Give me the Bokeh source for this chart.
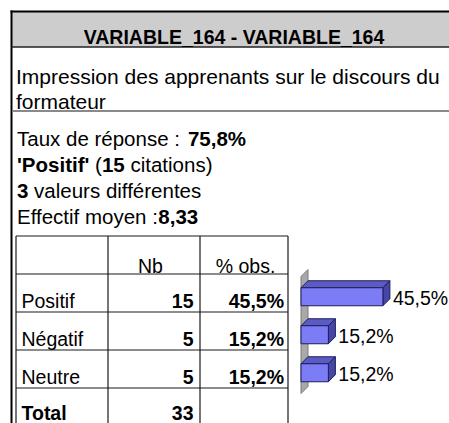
from bokeh.plotting import figure
from bokeh.models import Range1d
from bokeh.core.properties import value
from bokeh.embed import file_html
from bokeh.resources import INLINE

# ---------------- data ----------------
title_text = "VARIABLE_164 - VARIABLE_164"
question_lines = ["Impression des apprenants sur le discours du", "formateur"]
response_rate = 75.8
top_category = "Positif"
top_citations = 15
n_values = 3
mean_count = 8.33
table_header = ["Nb", "% obs."]
categories = ["Positif", "Négatif", "Neutre"]
counts = [15, 5, 5]
pct_obs = [45.5, 15.2, 15.2]
total_label = "Total"
total_count = 33


def fr(v, n):
    return f"{v:.{n}f}".replace(".", ",")


# Arial / Liberation Sans advance widths (per 1000 em)
W_REG = {" ": 278, "'": 191, "(": 333, ")": 333, ",": 278, "-": 333, ".": 278,
         ":": 278, "%": 889, "_": 556, "T": 611, "E": 667, "P": 667, "I": 278,
         "a": 556, "b": 556, "c": 500, "d": 556, "e": 556, "f": 278, "g": 556,
         "h": 556, "i": 222, "l": 222, "m": 833, "n": 556, "o": 556, "p": 556,
         "r": 333, "s": 500, "t": 278, "u": 556, "v": 500, "x": 500, "y": 500,
         "é": 556}
W_BOLD = {" ": 278, "'": 238, "(": 333, ")": 333, ",": 278, ":": 333, "%": 889,
          "P": 667, "o": 611, "s": 556, "i": 278, "t": 333, "f": 333}


def tw(s, bold, size):
    tab = W_BOLD if bold else W_REG
    return sum(tab.get(c, 556) for c in s) * size / 1000.0


FONT = value("Liberation Sans")
W, H = 449, 423

p = figure(width=W, height=H, x_range=Range1d(0, W), y_range=Range1d(H, 0),
           output_backend="svg", toolbar_location=None, min_border=0,
           x_axis_location=None, y_axis_location=None, outline_line_color=None)
p.xgrid.visible = False
p.ygrid.visible = False
p.background_fill_color = "white"
p.border_fill_color = "white"

# percentage scale for the bars: 0 % at x=300.5, 1.8 px per %
PX0, PXS = 300.5, 1.8
p.extra_x_ranges = {"pct": Range1d((0 - PX0) / PXS, (W - PX0) / PXS)}

# ---------------- frame ----------------
p.quad(left=[11], right=[W], top=[11], bottom=[46.5], fill_color="#CDCDCD", line_color=None)
p.segment(x0=[10, 11], y0=[11, 10], x1=[W, 11], y1=[11, H], line_color="black", line_width=2)
p.segment(x0=[11], y0=[46.5], x1=[W], y1=[46.5], line_color="#222222", line_width=1.3)
p.segment(x0=[12], y0=[110.5], x1=[W], y1=[110.5], line_color="#8A8A8A", line_width=2)

p.text(x=[233.5], y=[36], text=[title_text], text_font=FONT, text_font_style="bold",
       text_font_size="19.5px", text_align="center", text_baseline="alphabetic", text_color="black")

p.text(x=[15.5, 15.5], y=[76, 101], text=question_lines, text_font=FONT, text_font_size="21px",
       text_align="left", text_baseline="alphabetic", text_color="black")

# info lines with mixed weight
info_lines = [
    [("Taux de réponse : ", False), (fr(response_rate, 1) + "%", True)],
    [("'" + top_category + "'", True), (" (", False), (str(top_citations), True), (" citations)", False)],
    [(str(n_values), True), (" valeurs différentes", False)],
    [("Effectif moyen :", False), (fr(mean_count, 2), True)],
]
info_base = [138, 164, 190, 216]
FS = 20.5
for segs, yb in zip(info_lines, info_base):
    x = 16.5
    for s, b in segs:
        lead = len(s) - len(s.lstrip(" "))
        p.text(x=[x + tw(s[:lead], b, FS)], y=[yb], text=[s.strip(" ")], text_font=FONT,
               text_font_size=f"{FS}px", text_font_style="bold" if b else "normal",
               text_align="left", text_baseline="alphabetic", text_color="black")
        x += tw(s, b, FS)

# ---------------- table ----------------
col_x = [15.5, 107.5, 199.5, 287.5]
row_y = [235.5, 273.5, 311.5, 349.5, 387.5, 425.5]
p.segment(x0=[col_x[0]] * 5, y0=row_y[:5], x1=[col_x[-1]] * 5, y1=row_y[:5],
          line_color="#1A1A1A", line_width=1.2)
p.segment(x0=col_x, y0=[row_y[0]] * 4, x1=col_x, y1=[row_y[-1]] * 4,
          line_color="#1A1A1A", line_width=1.2)

TFS = "19.5px"
p.text(x=[150, 245], y=[265.5, 265.5], text=table_header, text_font=FONT, text_font_size=TFS,
       text_align="center", text_baseline="alphabetic", text_color="black")

row_base = [row_y[i + 2] - 11 for i in range(len(categories))]
p.text(x=[21] * len(categories), y=row_base, text=categories, text_font=FONT, text_font_size=TFS,
       text_align="left", text_baseline="alphabetic", text_color="black")
p.text(x=[193] * len(categories), y=row_base, text=[str(c) for c in counts], text_font=FONT,
       text_font_size=TFS, text_font_style="bold", text_align="right",
       text_baseline="alphabetic", text_color="black")
p.text(x=[283.5] * len(categories), y=row_base, text=[fr(v, 1) + "%" for v in pct_obs],
       text_font=FONT, text_font_size=TFS, text_font_style="bold", text_align="right",
       text_baseline="alphabetic", text_color="black")
tot_base = 412
p.text(x=[21], y=[tot_base], text=[total_label], text_font=FONT, text_font_size=TFS,
       text_font_style="bold", text_align="left", text_baseline="alphabetic", text_color="black")
p.text(x=[193], y=[tot_base], text=[str(total_count)], text_font=FONT, text_font_size=TFS,
       text_font_style="bold", text_align="right", text_baseline="alphabetic", text_color="black")

# ---------------- 3D bars ----------------
D = 7.0 / PXS   # depth in % units
DY = 7.0        # depth in px (vertical)
wall_top, wall_bot = 276, 393
p.patch(x=[0, D, D, 0], y=[wall_top, wall_top - DY, wall_bot - DY, wall_bot],
        x_range_name="pct", fill_color="#A9A9A9", line_color="#7A7A7A", line_width=1)

OUT = "#1E1E5A"
centers = [(row_y[i + 1] + row_y[i + 2]) / 2 + 3.75 for i in range(len(categories))]
for v, c in zip(pct_obs, centers):
    top, bot = c - 9, c + 9
    p.patch(x=[0, D, v + D, v], y=[top, top - DY, top - DY, top], x_range_name="pct",
            fill_color="#5B5BC4", line_color=OUT, line_width=1)
    p.patch(x=[v, v + D, v + D, v], y=[top, top - DY, bot - DY, bot], x_range_name="pct",
            fill_color="#4646A6", line_color=OUT, line_width=1)
    p.quad(left=[0], right=[v], top=[top], bottom=[bot], x_range_name="pct",
           fill_color="#7C7CF6", line_color=OUT, line_width=1)

p.text(x=pct_obs, y=[c + 1.5 for c in centers], text=[fr(v, 1) + "%" for v in pct_obs],
       x_range_name="pct", x_offset=10, text_font=FONT, text_font_size="19.5px",
       text_align="left", text_baseline="alphabetic", text_color="black")

open("out.html", "w").write(file_html(p, INLINE))
